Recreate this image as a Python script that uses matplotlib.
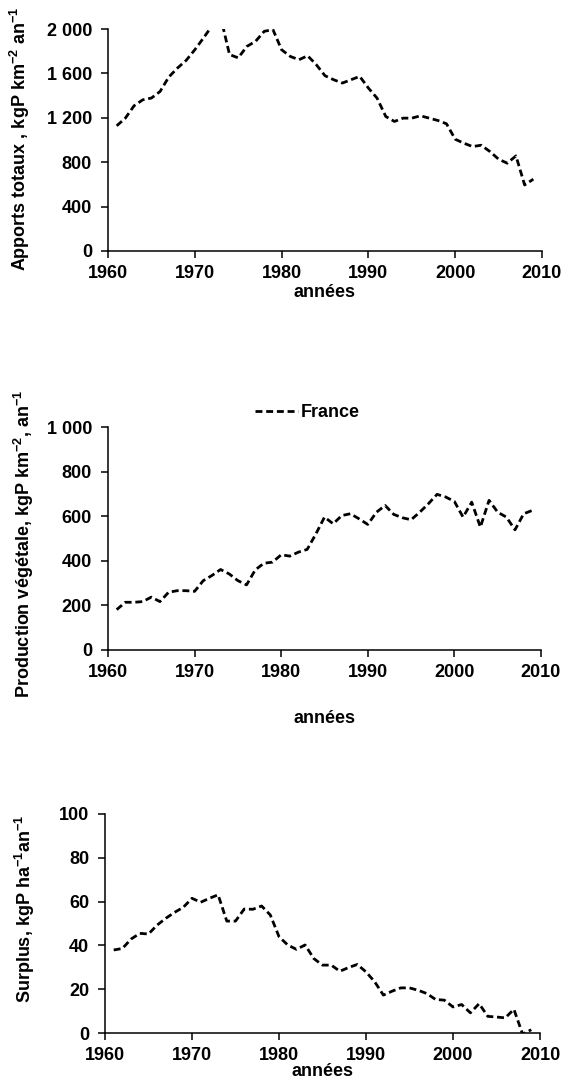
import numpy as np
import matplotlib.pyplot as plt
from matplotlib.ticker import FixedLocator, FixedFormatter

plt.rcParams['font.family'] = ['Liberation Sans', 'DejaVu Sans']
plt.rcParams['font.weight'] = 'bold'
plt.rcParams['mathtext.fontset'] = 'custom'
plt.rcParams['mathtext.rm'] = 'Liberation Sans:bold'
plt.rcParams['mathtext.it'] = 'Liberation Sans:bold'
plt.rcParams['mathtext.bf'] = 'Liberation Sans:bold'

years = np.arange(1961, 2010)

# apports totaux, kgP/km2/an
apports = [1128, 1197, 1308, 1362, 1378, 1437, 1567, 1648, 1717, 1813,
           1919, 2030, 2100, 1770, 1740, 1843, 1889, 1979, 1995, 1813,
           1753, 1723, 1759, 1678, 1579, 1543, 1513, 1543, 1573, 1468,
           1377, 1212, 1167, 1197, 1197, 1218, 1197, 1176, 1146, 1007,
           971, 941, 953, 896, 827, 791, 857, 595, 647]

# production vegetale, kgP/km2/an
production = [181, 214, 214, 217, 237, 217, 259, 266, 266, 263,
              311, 334, 361, 341, 311, 292, 359, 389, 394, 427,
              421, 439, 451, 520, 596, 566, 603, 611, 588, 563,
              618, 648, 608, 593, 584, 618, 656, 698, 686, 666,
              596, 663, 551, 671, 618, 596, 539, 611, 626]

# surplus, kgP/ha/an
surplus = [37.9, 38.6, 42.9, 45.5, 45.2, 49.3, 52.4, 55.1, 57.4, 61.5,
           59.7, 61.5, 63.1, 51.1, 51.1, 56.6, 56.5, 58.0, 53.9, 44.0,
           40.2, 38.2, 40.2, 34.0, 31.0, 31.0, 28.2, 29.9, 31.3, 27.9,
           23.4, 17.3, 19.1, 20.6, 20.6, 19.5, 18.0, 15.3, 15.0, 11.9,
           13.0, 9.2, 13.4, 7.6, 7.3, 6.9, 10.8, -0.5, 1.5]

xticks = [1960, 1970, 1980, 1990, 2000, 2010]
yticks1 = [0, 400, 800, 1200, 1600, 2000]
ylabels1 = ['0', '400', '800', '1 200', '1 600', '2 000']
yticks2 = [0, 200, 400, 600, 800, 1000]
ylabels2 = ['0', '200', '400', '600', '800', '1 000']
yticks3 = [0, 20, 40, 60, 80, 100]
ylabels3 = ['0', '20', '40', '60', '80', '100']

W, H = 571, 1082
FS = 13
fig = plt.figure(figsize=(W / 100, H / 100), dpi=100)


def make_ax(left, right, top, bottom):
    return fig.add_axes([left / W, 1 - bottom / H, (right - left) / W, (bottom - top) / H])


def style(ax, yt, yl, ylim, ylabel, ylab_xy, xlab_y):
    ax.set_xlim(1960, 2010)
    ax.set_ylim(*ylim)
    ax.xaxis.set_major_locator(FixedLocator(xticks))
    ax.yaxis.set_major_locator(FixedLocator(yt))
    ax.yaxis.set_major_formatter(FixedFormatter(yl))
    for s in ('top', 'right'):
        ax.spines[s].set_visible(False)
    for s in ('left', 'bottom'):
        ax.spines[s].set_linewidth(1.1)
    ax.tick_params(direction='out', length=5, width=1.1, labelsize=FS)
    ax.tick_params(axis='x', pad=5)
    ax.tick_params(axis='y', pad=6.5)
    for lab in ax.get_xticklabels() + ax.get_yticklabels():
        lab.set_fontweight('bold')
    ax.set_ylabel(ylabel, fontsize=FS, fontweight='bold', ha='center', va='center')
    ax.yaxis.set_label_coords(*ylab_xy)
    ax.set_xlabel('années', fontsize=FS, fontweight='bold', va='center')
    ax.xaxis.set_label_coords(0.5, xlab_y)


line_kw = dict(color='black', lw=2.0, ls=(0, (2.5, 1.35)))

ax1 = make_ax(108, 542, 29, 251)
ax1.plot(years, apports, **line_kw)
style(ax1, yticks1, ylabels1, (0, 2000),
      'Apports totaux , kgP km$^{-2}$ an$^{-1}$', (-0.203, 0.505), -0.189)

ax2 = make_ax(108, 541, 427, 650)
ax2.plot(years, production, label='France', **line_kw)
style(ax2, yticks2, ylabels2, (0, 1000),
      'Production végétale, kgP km$^{-2}$, an$^{-1}$', (-0.194, 0.475), -0.305)
ax2.legend(loc='center', bbox_to_anchor=(0.46, 1.063), frameon=False,
           handlelength=2.4, handletextpad=0.15, borderpad=0,
           prop={'size': FS, 'weight': 'bold'})

ax3 = make_ax(105, 540, 814, 1033)
ax3.plot(years, surplus, **line_kw)
style(ax3, yticks3, ylabels3, (0, 100),
      'Surplus, kgP ha$^{-1}$an$^{-1}$', (-0.184, 0.566), -0.178)

fig.savefig('out.png', dpi=100)
